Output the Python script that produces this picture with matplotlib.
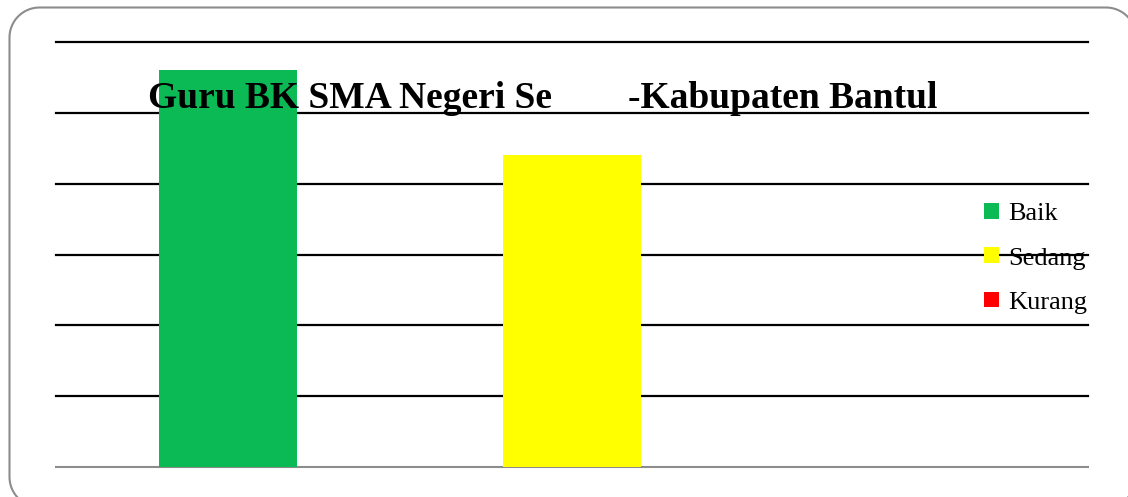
import numpy as np
import matplotlib.pyplot as plt
from matplotlib.patches import PathPatch
from matplotlib.path import Path
from matplotlib.transforms import IdentityTransform

categories = ["Baik", "Sedang", "Kurang"]
values = [56, 44, 0]
colors = ["#0cba55", "#ffff00", "#ff0000"]
title_left = "Guru BK SMA Negeri Se"
title_right = "-Kabupaten Bantul"

plt.rcParams["font.family"] = ["Liberation Serif", "DejaVu Serif"]

W, H = 1128, 497
fig = plt.figure(figsize=(W / 100, H / 100), dpi=100)
ax = fig.add_axes([56 / W, 30 / H, 1032 / W, 425 / H])


def rounded_frame(x0, y0, x1, y1, r):
    # outline of a rounded rectangle in pixel coords (origin bottom-left)
    pts = []
    corners = [(x1 - r, y1 - r, 0), (x0 + r, y1 - r, 90), (x0 + r, y0 + r, 180), (x1 - r, y0 + r, 270)]
    for cx, cy, a0 in corners:
        t = np.radians(np.linspace(a0, a0 + 90, 20))
        pts.extend(zip(cx + r * np.cos(t), cy + r * np.sin(t)))
    pts.append(pts[0])
    return Path(pts)


frame = PathPatch(rounded_frame(9.5, -10, 1136, H - 7.5, 30), transform=IdentityTransform(),
                  fill=False, edgecolor="#8c8c8c", linewidth=1.5, clip_on=False)
fig.patches.append(frame)

x = range(len(categories))
bars = ax.bar(x, values, width=0.4, color=colors, zorder=3)

ax.set_xlim(-0.5, 2.5)
ax.set_ylim(0, 60)
ax.set_yticks(range(10, 61, 10))
ax.yaxis.grid(True, color="black", linewidth=1.6, zorder=1)
for gl in ax.get_ygridlines():
    gl.set_clip_on(False)
ax.set_axisbelow(True)
ax.tick_params(left=False, bottom=False, labelleft=False, labelbottom=False)
for s in ["top", "left", "right"]:
    ax.spines[s].set_visible(False)
ax.spines["bottom"].set_color("#8c8c8c")
ax.spines["bottom"].set_linewidth(1.5)

fig.text(148 / W, 1 - 108 / H, title_left, fontsize=27, fontweight="bold",
         ha="left", va="baseline", zorder=10)
fig.text(628 / W, 1 - 108 / H, title_right, fontsize=27, fontweight="bold",
         ha="left", va="baseline", zorder=10)

leg = fig.legend(bars, categories, loc="upper left", bbox_to_anchor=(971 / W, 1 - 190 / H),
                 frameon=False, fontsize=19, handlelength=0.55, handleheight=0.55,
                 handletextpad=0.35, labelspacing=0.83, borderpad=0)

fig.savefig("out.png", dpi=100)
